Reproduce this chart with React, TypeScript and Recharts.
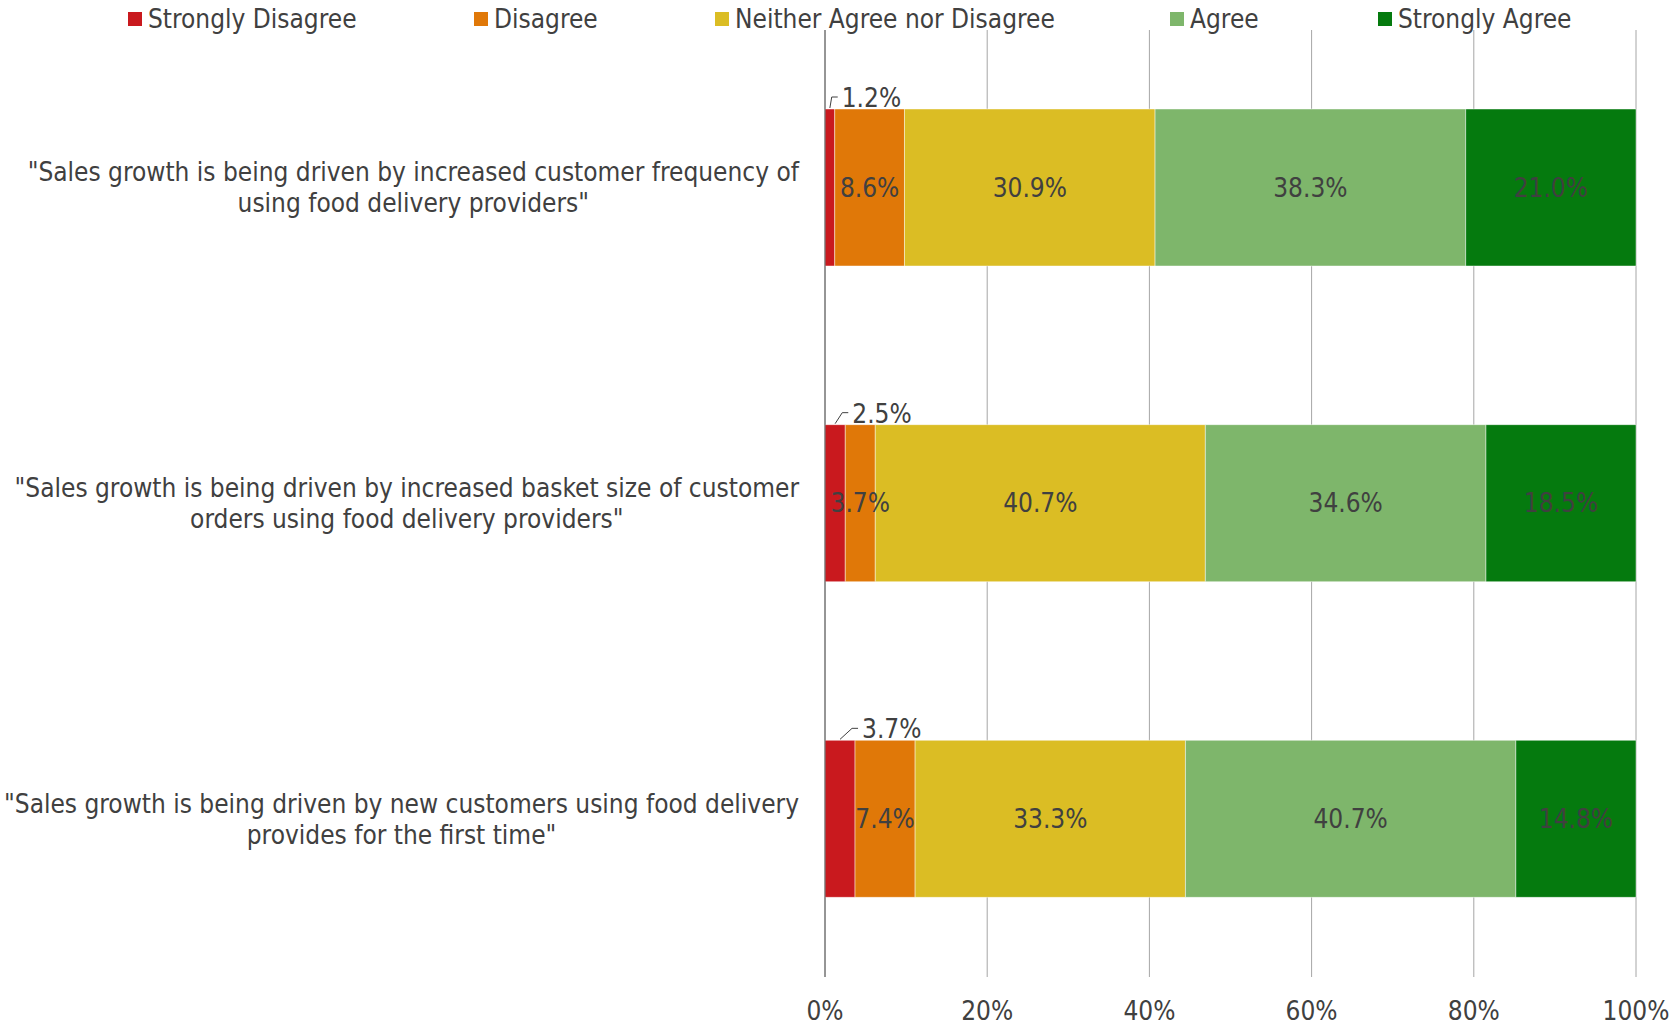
import React from "react";
import {
  BarChart,
  Bar,
  XAxis,
  YAxis,
  CartesianGrid,
  LabelList,
} from "recharts";

const CATEGORIES = [
  '"Sales growth is being driven by increased customer frequency of\nusing food delivery providers"',
  '"Sales growth is being driven by increased basket size of customer\norders using food delivery providers"',
  '"Sales growth is being driven by new customers using food delivery\nprovides for the first time"',
];

const STRONGLY_DISAGREE = [1.2, 2.5, 3.7];
const DISAGREE = [8.6, 3.7, 7.4];
const NEUTRAL = [30.9, 40.7, 33.3];
const AGREE = [38.3, 34.6, 40.7];
const STRONGLY_AGREE = [21.0, 18.5, 14.8];

const X_TICKS = [0, 0.2, 0.4, 0.6, 0.8, 1];

const SERIES = [
  { key: "sd", name: "Strongly Disagree", color: "#C9191E" },
  { key: "d", name: "Disagree", color: "#E07808" },
  { key: "n", name: "Neither Agree nor Disagree", color: "#DBBD24" },
  { key: "a", name: "Agree", color: "#7EB66B" },
  { key: "sa", name: "Strongly Agree", color: "#057A0E" },
];

// legend item left edges
const LEGEND_X = [128, 474, 715, 1170, 1378];

const FONT = '"DejaVu Sans Condensed", "DejaVu Sans", sans-serif';
const FS = 26;
const TEXT = "#404040";

const data = CATEGORIES.map((c, i) => ({
  category: c,
  sd: STRONGLY_DISAGREE[i],
  d: DISAGREE[i],
  n: NEUTRAL[i],
  a: AGREE[i],
  sa: STRONGLY_AGREE[i],
}));

let ctx: CanvasRenderingContext2D | null = null;
function textWidth(s: string): number {
  if (!ctx) ctx = document.createElement("canvas").getContext("2d");
  if (!ctx) return s.length * FS * 0.5;
  ctx.font = `${FS}px ${FONT}`;
  return ctx.measureText(s).width;
}

const CategoryTick = ({ x, y, payload }: any) => {
  const lines: string[] = String(payload.value).split("\n");
  const maxW = Math.max(...lines.map(textWidth));
  const cx = x - maxW / 2;
  const lh = 31;
  return (
    <g>
      {lines.map((line, i) => (
        <text
          key={i}
          x={cx}
          y={y + (i - (lines.length - 1) / 2) * lh}
          textAnchor="middle"
          dominantBaseline="central"
          fontSize={FS}
          fontFamily={FONT}
          fill={TEXT}
        >
          {line}
        </text>
      ))}
    </g>
  );
};

// small segment: label sits above the bar with a leader line
const LeaderLabel = (props: any) => {
  const x = Number(props.x);
  const y = Number(props.y);
  const w = Number(props.width);
  const cx = x + w / 2;
  const right = x + w;
  const ly = y - 12;
  return (
    <g>
      <polyline
        points={`${cx},${y - 1} ${right - 3},${ly} ${right + 3},${ly}`}
        fill="none"
        stroke={TEXT}
        strokeWidth={1}
      />
      <text
        x={right + 7}
        y={ly + 1}
        dominantBaseline="central"
        fontSize={FS}
        fontFamily={FONT}
        fill={TEXT}
      >
        {Number(props.value).toFixed(1)}%
      </text>
    </g>
  );
};

const fmt = (v: any) => `${Number(v).toFixed(1)}%`;

export default function App() {
  return (
    <div style={{ position: "absolute", left: 0, top: 0, width: 1679, height: 1026, background: "#fff" }}>
      <div style={{ position: "absolute", left: 0, top: 0, width: 1679, height: 40, fontFamily: FONT, fontSize: FS, color: TEXT }}>
        {SERIES.map((s, i) => (
          <div
            key={s.key}
            style={{ position: "absolute", left: LEGEND_X[i], top: 4, display: "flex", alignItems: "center", whiteSpace: "nowrap" }}
          >
            <span style={{ width: 14, height: 14, background: s.color, display: "inline-block", marginRight: 6 }} />
            <span>{s.name}</span>
          </div>
        ))}
      </div>
      <BarChart
        width={1679}
        height={1026}
        data={data}
        layout="vertical"
        stackOffset="expand"
        margin={{ top: 30, right: 43, left: 0, bottom: 0 }}
        style={{ fontFamily: FONT }}
      >
        <CartesianGrid horizontal={false} stroke="#A6A6A6" strokeWidth={1} />
        <XAxis
          type="number"
          domain={[0, 1]}
          ticks={X_TICKS}
          tickFormatter={(v) => `${Math.round(v * 100)}%`}
          axisLine={false}
          tickLine={false}
          tickSize={0}
          tickMargin={25}
          height={49}
          tick={{ fontSize: FS, fill: TEXT, fontFamily: FONT }}
          interval={0}
        />
        <YAxis
          type="category"
          dataKey="category"
          width={825}
          axisLine={{ stroke: "#595959" }}
          tickLine={false}
          tickSize={0}
          tickMargin={26}
          tick={<CategoryTick />}
          interval={0}
        />
        {SERIES.map((s, i) => (
          <Bar
            key={s.key}
            dataKey={s.key}
            name={s.name}
            stackId="a"
            fill={s.color}
            stroke="#ffffff"
            strokeOpacity={0.45}
            strokeWidth={1}
            barSize={157}
            isAnimationActive={false}
          >
            {i === 0 ? (
              <LabelList dataKey={s.key} content={<LeaderLabel />} />
            ) : (
              <LabelList
                dataKey={s.key}
                position="center"
                formatter={fmt}
                fill={TEXT}
                fontSize={FS}
                fontFamily={FONT}
              />
            )}
          </Bar>
        ))}
      </BarChart>
    </div>
  );
}
